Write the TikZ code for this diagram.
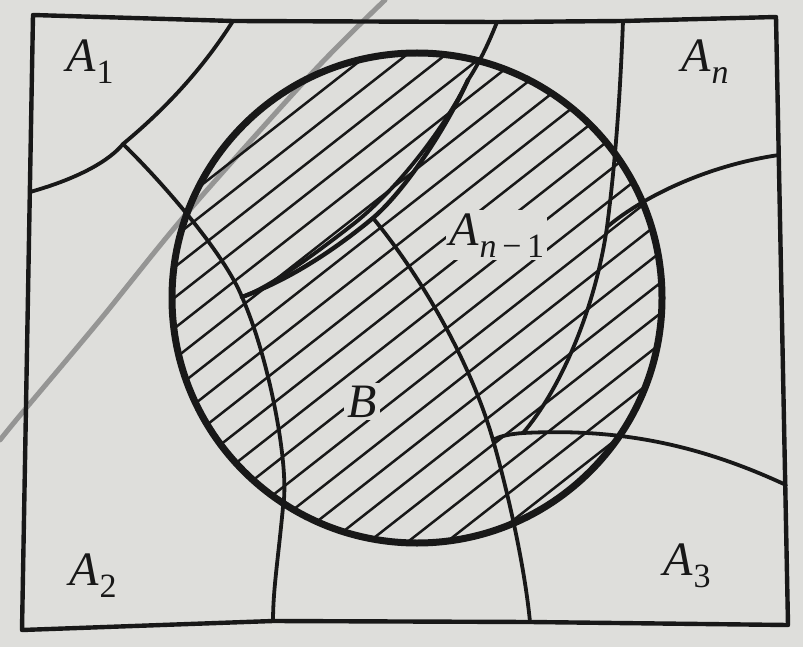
\documentclass[tikz,border=0pt]{standalone}
\usepackage{fontspec}
\setmainfont{Liberation Serif}
\definecolor{paper}{RGB}{222,222,219}
\definecolor{ink}{RGB}{24,24,24}
\definecolor{pencil}{RGB}{125,125,125}
\newcommand\Lab[2]{\textit{#1}\kern1pt\raisebox{-12pt}{\fontsize{34}{34}\selectfont #2}}
\tikzset{
  frame/.style={draw=ink, line width=4.4pt, line join=round},
  part/.style={draw=ink, line width=3.8pt, line cap=round, line join=round},
  lens/.style={draw=ink, line width=4.4pt, line cap=round, line join=round},
  rim/.style={draw=ink, line width=7pt},
  hatch/.style={draw=ink, line width=2.5pt},
  stain/.style={draw=pencil, line width=5pt, opacity=0.75, line cap=round},
  lab/.style={anchor=base west, inner sep=0pt, font=\fontsize{48}{50}\selectfont, text=ink},
  labbg/.style={anchor=base west, inner sep=3pt, fill=paper, font=\fontsize{48}{50}\selectfont, text=ink}
}
\begin{document}
\begin{tikzpicture}[x=1pt,y=-1pt]
\fill[paper] (0,0) rectangle (803,647);
\useasboundingbox (0,0) rectangle (803,647);
% pencil stroke across the page
\draw[stain] plot[smooth] coordinates {(385,0) (313,72) (187,213) (100,320) (22,413) (0,440)};
% key points
\coordinate (C) at (417,298);
\coordinate (J1) at (123,144);
\coordinate (Jtip) at (242,297);
\coordinate (Jsplit) at (468,80);
\coordinate (J4) at (373,218);
\coordinate (J5) at (607,227);
\coordinate (J7) at (493,440);
\coordinate (J8) at (523,433);
% hatching of B
\begin{scope}
  \clip (C) circle[radius=245pt];
  \foreach \k in {-12,...,12} {
    \pgfmathsetmacro\d{24*\k-5.8}
    \draw[hatch, shift={(C)}] ({0.616*\d-236},{0.788*\d+185}) -- ({0.616*\d+236},{0.788*\d-185});
  }
\end{scope}
% frame
\draw[frame] (33,15) -- (233,21) -- (497,22) -- (623,21) -- (776,17) -- (788,625) -- (530,622) -- (273,621) -- (22,630) -- cycle;
% partition curves
\draw[part] (30,192) .. controls (80,178) and (110,160) .. (J1) .. controls (170,105) and (205,65) .. (233,21);
\draw[part] (J1) .. controls (165,185) and (225,255) .. (Jtip) .. controls (270,360) and (290,470) .. (283,507) .. controls (278,560) and (273,590) .. (273,621);
\draw[part] (497,22) .. controls (488,45) and (478,65) .. (Jsplit);
\draw[lens] (Jsplit) .. controls (440,140) and (400,195) .. (J4) .. controls (320,262) and (275,285) .. (Jtip);
\draw[part] (Jsplit) .. controls (450,118) and (405,182) .. (356,222) .. controls (310,258) and (268,288) .. (Jtip);
\draw[part] (J4) .. controls (420,275) and (470,360) .. (J7) .. controls (510,500) and (525,570) .. (530,622);
\draw[part] (623,21) .. controls (620,100) and (615,165) .. (J5) .. controls (595,310) and (560,390) .. (J8);
\draw[part] (779,155) .. controls (710,165) and (645,195) .. (J5);
\draw[part] (J7) .. controls (500,436) and (510,434) .. (J8) .. controls (620,428) and (700,445) .. (786,485);
% the event B
\draw[rim] (C) circle[radius=245pt];
% labels
\node[lab] (a1) at (66,72) {\Lab{A}{1}};
\node[lab] (an) at (681,72) {\Lab{A}{\textit{n}}};
\node[labbg] (an1) at (446,245) {\Lab{A}{\textit{n}\,−\,1}};
\node[labbg] (b) at (344,417) {\textit{B}};
\node[lab] (a2) at (69,585) {\Lab{A}{2}};
\node[lab] (a3) at (663,575) {\Lab{A}{3}};
\end{tikzpicture}
\end{document}
